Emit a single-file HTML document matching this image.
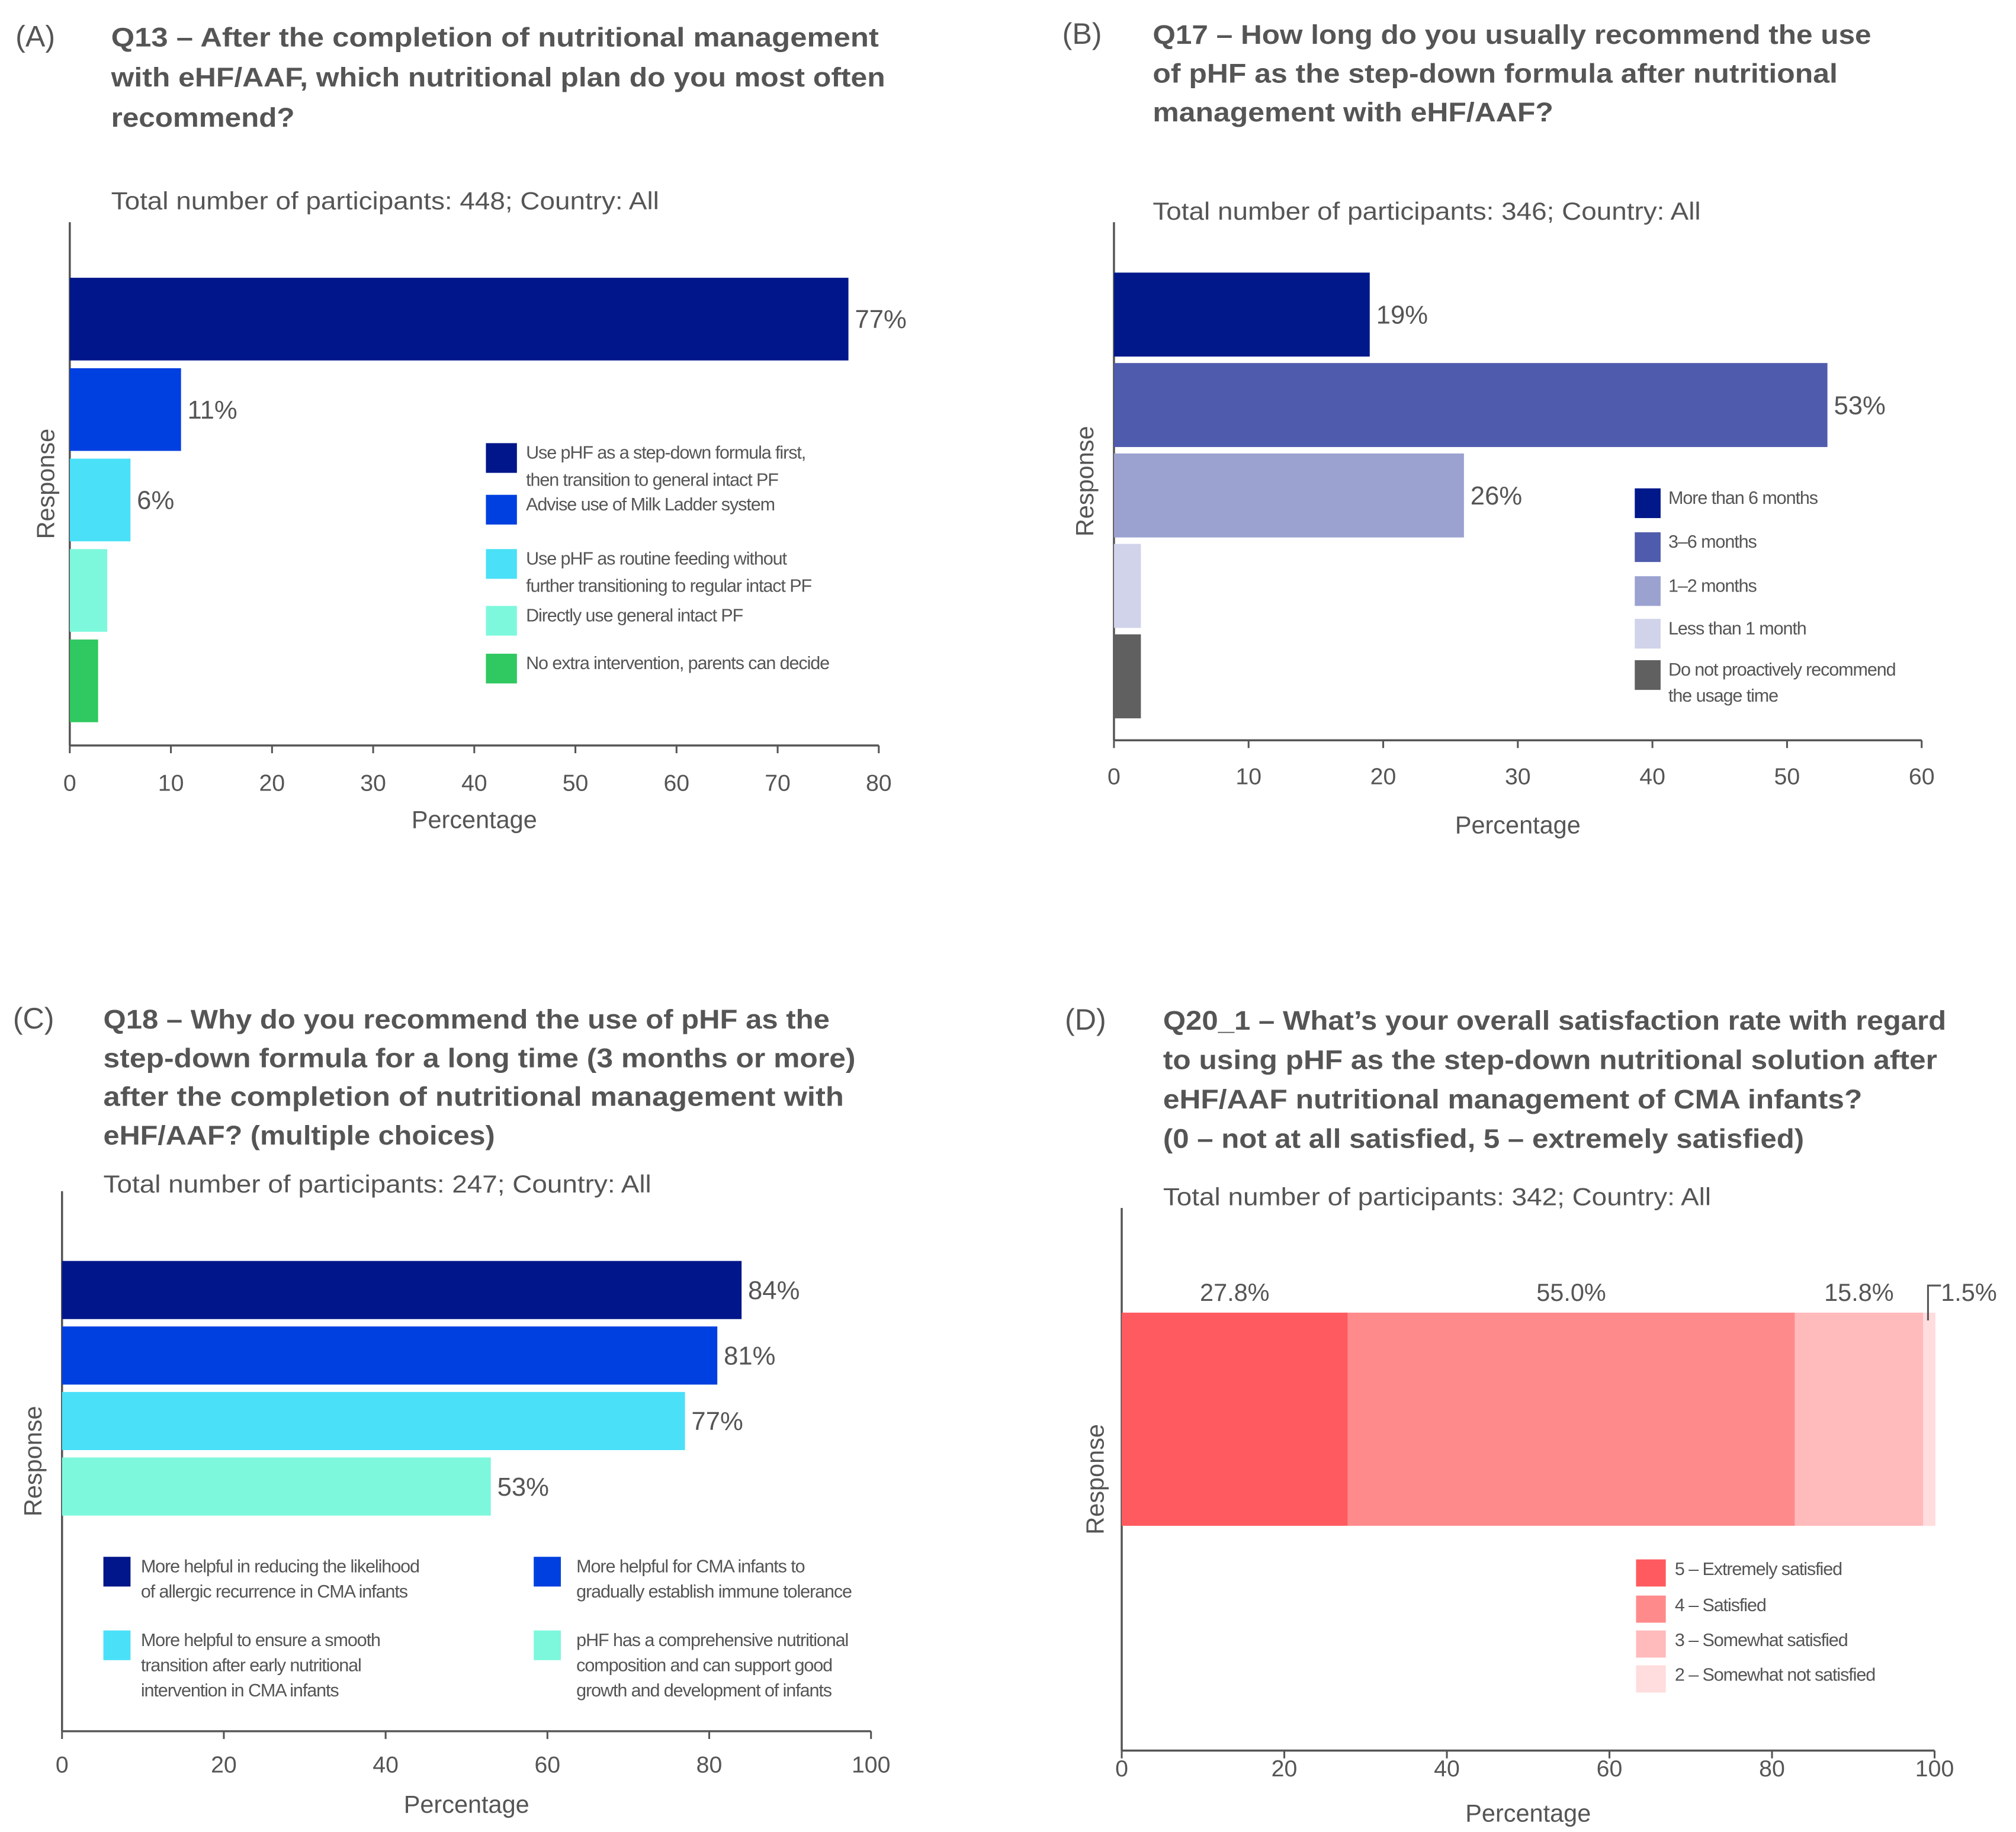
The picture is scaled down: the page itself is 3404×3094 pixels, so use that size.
<!DOCTYPE html>
<html><head><meta charset="utf-8"><style>
html,body{margin:0;padding:0;background:#fff}
svg{display:block}
text{font-family:"Liberation Sans",sans-serif;fill:#555}
</style></head><body>
<svg id="s" width="3404" height="3094" viewBox="0 0 1560 1418" preserveAspectRatio="none" xmlns="http://www.w3.org/2000/svg"></svg>
<script>
// ---- Data ----
const aValues = [77, 11, 6, 3.7, 2.8];
const aLabels = ["77%", "11%", "6%", "", ""];
const aTicks = [0, 10, 20, 30, 40, 50, 60, 70, 80];
const aCategories = ["Use pHF as a step-down formula first,|then transition to general intact PF", "Advise use of Milk Ladder system", "Use pHF as routine feeding without|further transitioning to regular intact PF", "Directly use general intact PF", "No extra intervention, parents can decide"];
const bValues = [19, 53, 26, 2, 2];
const bLabels = ["19%", "53%", "26%", "", ""];
const bTicks = [0, 10, 20, 30, 40, 50, 60];
const bCategories = ["More than 6 months", "3–6 months", "1–2 months", "Less than 1 month", "Do not proactively recommend|the usage time"];
const cValues = [84, 81, 77, 53];
const cLabels = ["84%", "81%", "77%", "53%"];
const cTicks = [0, 20, 40, 60, 80, 100];
const cCategories = ["More helpful in reducing the likelihood|of allergic recurrence in CMA infants", "More helpful for CMA infants to|gradually establish immune tolerance", "More helpful to ensure a smooth|transition after early nutritional|intervention in CMA infants", "pHF has a comprehensive nutritional|composition and can support good|growth and development of infants"];
const dValues = [27.8, 55.0, 15.8, 1.5];
const dLabels = ["27.8%", "55.0%", "15.8%", "1.5%"];
const dTicks = [0, 20, 40, 60, 80, 100];
const dCategories = ["5 – Extremely satisfied", "4 – Satisfied", "3 – Somewhat satisfied", "2 – Somewhat not satisfied"];

const svg = document.getElementById('s');
const NS = "http://www.w3.org/2000/svg";
function mk(tag, attrs, parent) {
  const e = document.createElementNS(NS, tag);
  for (const k in attrs) e.setAttribute(k, attrs[k]);
  (parent || svg).appendChild(e);
  return e;
}
function txt(x, y, s, size, extra, parent) {
  const t = mk('text', Object.assign({x: x, y: y, 'font-size': size}, extra || {}), parent);
  t.textContent = s;
  return t;
}
function header(g, lx, tx, lines, widths, y0, lineH, letter, subY, sub, subW) {
  const l = txt(lx, y0, letter, 23, {}, g);
  
  
  lines.forEach((s, i) => {
    const t = txt(tx, y0 + i * lineH, s, 21, {'font-weight': 'bold', textLength: widths[i], lengthAdjust: 'spacingAndGlyphs'}, g);
    
    
  });
  const st = txt(tx, subY, sub, 19, {textLength: subW, lengthAdjust: 'spacingAndGlyphs'}, g);
  
  
}
function axes(g, x0, x1, yTop, yBot, ticks, tickY, pctY, respX) {
  const maxV = ticks[ticks.length - 1];
  const sx = v => x0 + (x1 - x0) * v / maxV;
  const ya = mk('line', {x1: x0, y1: yTop, x2: x0, y2: yBot, stroke: '#555', 'stroke-width': 1.6}, g);
  
  
  const xa = mk('line', {x1: x0, y1: yBot, x2: x1, y2: yBot, stroke: '#555', 'stroke-width': 1.6}, g);
  
  
  ticks.forEach(v => {
    const tk = mk('line', {x1: sx(v), y1: yBot, x2: sx(v), y2: yBot + 6, stroke: '#555', 'stroke-width': 1.4}, g);
    
    
    const tl = txt(sx(v), tickY, String(v), 18, {'text-anchor': 'middle'}, g);
    
    
  });
  const xt = txt((x0 + x1) / 2, pctY, 'Percentage', 19, {'text-anchor': 'middle'}, g);
  
  
  const ry = (yTop + yBot) / 2;
  const yt = txt(respX, ry, 'Response', 19, {'text-anchor': 'middle', transform: 'rotate(-90 ' + respX + ' ' + ry + ')'}, g);
  
  
  return sx;
}
function legend(g, x, ys, cats, colors, size, tx, lineH, sqW, sqH) {
  cats.forEach((c, i) => {
    const sq = mk('rect', {x: x, y: ys[i], width: sqW, height: sqH, fill: colors[i]}, g);
    
    
    c.split('|').forEach((s, j) => {
      const t = txt(x + tx, ys[i] + size - 2 + j * lineH, s, size, {'letter-spacing': '-0.5'}, g);
      
      
    });
  });
}
function hbars(g, sx, vals, labels, colors, tops, h, lsize, name) {
  vals.forEach((v, i) => {
    const r = mk('rect', {x: sx(0), y: tops[i], width: sx(v) - sx(0), height: h, fill: colors[i]}, g);
    
    
    if (labels[i]) {
      const t = txt(sx(v) + 5, tops[i] + h / 2 + 7, labels[i], lsize, {}, g);
      
      
    }
  });
}

// ---- Panel A ----
const gA = mk('g', {});


header(gA, 12, 86, ["Q13 – After the completion of nutritional management", "with eHF/AAF, which nutritional plan do you most often", "recommend?"], [594, 599, 142], 36, 31, "(A)", 162, "Total number of participants: 448; Country: All", 424);
const sxA = axes(gA, 54, 680, 172, 577, aTicks, 612, 641, 42);
const aColors = ['#00168a', '#0040e0', '#4ae0f8', '#7ef8dc', '#30c860'];
hbars(gA, sxA, aValues, aLabels, aColors, aValues.map((v, i) => 215 + i * 70), 64, 20, 'bar-a');
legend(gA, 376, [343, 383, 425, 469, 506], aCategories, aColors, 14, 31, 21, 24, 23);

// ---- Panel B ----
const gB = mk('g', {});


header(gB, 822, 892, ["Q17 – How long do you usually recommend the use", "of pHF as the step-down formula after nutritional", "management with eHF/AAF?"], [556, 530, 310], 34, 30, "(B)", 170, "Total number of participants: 346; Country: All", 424);
const sxB = axes(gB, 862, 1487, 172, 573, bTicks, 607, 645, 846);
const bColors = ['#00188a', '#4f5bac', '#9ba2d0', '#d0d3ea', '#606060'];
hbars(gB, sxB, bValues, bLabels, bColors, bValues.map((v, i) => 211 + i * 70), 65, 20, 'bar-b');
legend(gB, 1265, [378, 412, 446, 479, 511], bCategories, bColors, 14, 26, 20, 20, 23);

// ---- Panel C ----
const gC = mk('g', {});


header(gC, 10, 80, ["Q18 – Why do you recommend the use of pHF as the", "step-down formula for a long time (3 months or more)", "after the completion of nutritional management with", "eHF/AAF? (multiple choices)"], [562, 582, 573, 303], 796, 30, "(C)", 923, "Total number of participants: 247; Country: All", 424);
const sxC = axes(gC, 48, 674, 922, 1340, cTicks, 1372, 1403, 32);
const cColors = ['#00168a', '#0040e0', '#4ae0f8', '#7ef8dc'];
hbars(gC, sxC, cValues, cLabels, cColors, cValues.map((v, i) => 976 + i * 50.7), 45, 20, 'bar-c');
const gCL = mk('g', {}, gC);


legend(gCL, 80, [1205, 1262], [cCategories[0], cCategories[2]], [cColors[0], cColors[2]], 14, 29, 19.5, 21, 23);
legend(gCL, 413, [1205, 1262], [cCategories[1], cCategories[3]], [cColors[1], cColors[3]], 14, 33, 19.5, 21, 23);

// ---- Panel D ----
const gD = mk('g', {});


header(gD, 824, 900, ["Q20_1 – What’s your overall satisfaction rate with regard", "to using pHF as the step-down nutritional solution after", "eHF/AAF nutritional management of CMA infants?", "(0 – not at all satisfied, 5 – extremely satisfied)"], [606, 599, 541, 496], 797, 30.5, "(D)", 933, "Total number of participants: 342; Country: All", 424);
const sxD = axes(gD, 868, 1497, 935, 1355, dTicks, 1375, 1410, 854);
const dColors = ['#ff5a5f', '#ff8a8c', '#ffbabc', '#ffdcdd'];
let cum = 0;
dValues.forEach((v, i) => {
  const r = mk('rect', {x: sxD(cum), y: 1016, width: sxD(cum + v) - sxD(cum), height: 165, fill: dColors[i]}, gD);
  
  
  const mid = sxD(cum + v / 2);
  if (i < 3) {
    const t = txt(mid, 1007, dLabels[i], 19, {'text-anchor': 'middle'}, gD);
    
    
  } else {
    const p = mk('path', {d: 'M' + (mid - 1) + ' 1022 V995 H' + (mid + 9), stroke: '#555', 'stroke-width': 1.4, fill: 'none'}, gD);
    
    
    const t = txt(mid + 9, 1007, dLabels[i], 19, {}, gD);
    
    
  }
  cum += v;
});
legend(gD, 1266, [1207, 1235, 1262, 1289], dCategories, dColors, 14, 30, 20, 23, 21);
</script>
</body></html>
